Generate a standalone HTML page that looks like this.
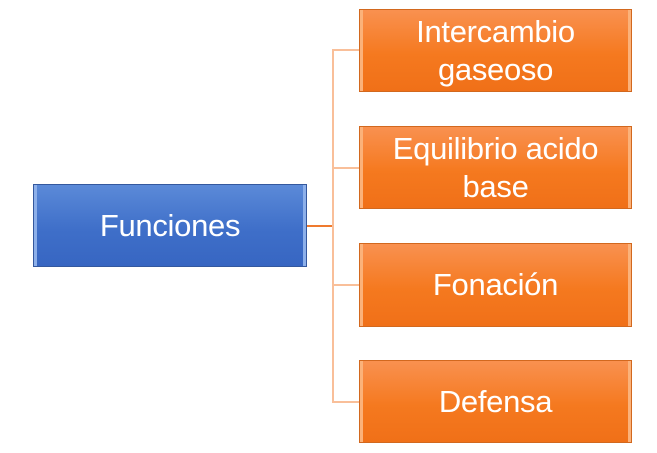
<!DOCTYPE html>
<html><head><meta charset="utf-8"><style>
body{margin:0;width:657px;height:453px;background:#fff;position:relative;overflow:hidden;font-family:"Liberation Sans",sans-serif}
.b{position:absolute;display:flex;align-items:center;justify-content:center;text-align:center;color:#fff;font-size:31px;line-height:38px;box-sizing:border-box;letter-spacing:-0.3px}
.o{left:359px;width:273px;background:linear-gradient(#f99150,#f5791f 55%,#f07018);border:1px solid #d2681e;box-shadow:inset 5px 0 0 -2px #fbb27a,inset -5px 0 0 -2px #fbb27a}
.l{position:absolute;background:#f9bf99}
</style></head><body>
<div class="b" style="left:33px;top:184px;width:274px;height:83px;background:linear-gradient(#5b8ad8,#3f6fc9 55%,#3766c2);border:1px solid #34589e;box-shadow:inset 5px 0 0 -2px #8db0ea,inset -5px 0 0 -2px #8db0ea">Funciones</div>
<div class="l" style="left:307px;top:225px;width:27px;height:2px;background:#ef7a2e"></div>
<div class="l" style="left:332px;top:50px;width:2px;height:353px"></div>
<div class="l" style="left:332px;top:49px;width:27px;height:2px"></div>
<div class="l" style="left:332px;top:167px;width:27px;height:2px"></div>
<div class="l" style="left:332px;top:284px;width:27px;height:2px"></div>
<div class="l" style="left:332px;top:401px;width:27px;height:2px"></div>
<div class="b o" style="top:9px;height:83px">Intercambio<br>gaseoso</div>
<div class="b o" style="top:126px;height:83px">Equilibrio acido<br>base</div>
<div class="b o" style="top:243px;height:84px">Fonación</div>
<div class="b o" style="top:360px;height:83px">Defensa</div>
</body></html>
